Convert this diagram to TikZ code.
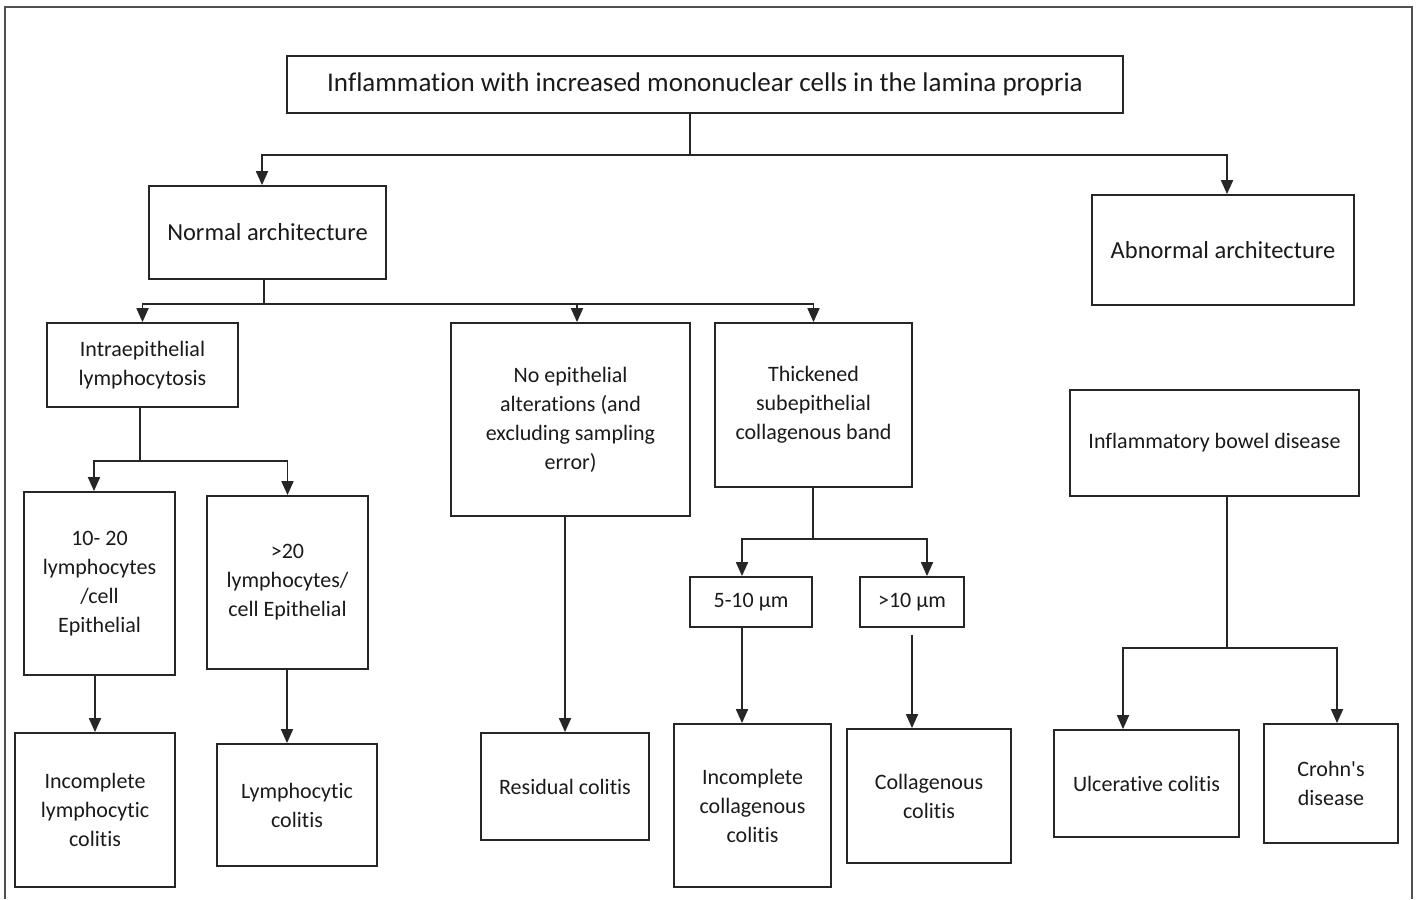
\documentclass[tikz,border=0pt]{standalone}
\usepackage{fontspec}
\setmainfont{Carlito}[Ligatures=NoCommon]
\usepackage{tikz}
\usetikzlibrary{arrows.meta,calc}
\definecolor{BoxLine}{HTML}{262626}
\definecolor{FrameLine}{HTML}{505050}
\definecolor{InkText}{HTML}{1A1A1A}
\newcommand{\headfont}{\fontsize{13.5}{16}\selectfont}
\newcommand{\archfont}{\fontsize{12.25}{15}\selectfont}
\newcommand{\midfont}{\fontsize{11}{14}\selectfont}
\newcommand{\smallfont}{\fontsize{11}{14.5}\selectfont}
\tikzset{>={Triangle[width=6pt,length=7pt]}}
\tikzset{
  box/.style={draw=BoxLine, line width=0.9pt, align=center, text=InkText,
    font=\smallfont, inner sep=0pt},
  dim/.style 2 args={minimum width=#1*0.5pt, minimum height=#2*0.5pt},
  wire/.style={draw=BoxLine, line width=0.9pt},
  go/.style={wire, ->}
}

\begin{document}
\begin{tikzpicture}[x=0.5pt,y=-0.5pt]
  \useasboundingbox (0,0) rectangle (1417,899);
  %% frame
  \draw[FrameLine, line width=0.8pt] (5,899) -- (5,7) -- (1412,7) -- (1412,899);

  %% level 0 and 1
  \node[box, dim={836}{57}, font=\headfont] (title) at (705,84.5)
    {Inflammation with increased mononuclear cells in the lamina propria};
  \node[box, dim={237}{93}, font=\archfont] (normal) at (267.5,232.5) {Normal architecture};
  \node[box, dim={262}{110}, font=\archfont] (abnormal) at (1223,250) {Abnormal architecture};

  %% level 2
  \node[box, dim={191}{84}] (intra) at (142.5,365) {Intraepithelial\\lymphocytosis};
  \node[box, dim={239}{193}] (noepi) at (570.5,419.5)
    {No epithelial\\alterations (and\\excluding sampling\\error)};
  \node[box, dim={197}{164}] (thick) at (813.5,405)
    {Thickened\\subepithelial\\collagenous band};
  \node[box, dim={289}{106}, font=\midfont] (ibd) at (1214.5,443) {Inflammatory bowel disease};

  %% level 3
  \node[box, dim={151}{183}] (lowlym) at (99.5,583.5) {10- 20\\lymphocytes\\/cell\\Epithelial};
  \node[box, dim={161}{173}] (highlym) at (287.5,582.5) {>20\\lymphocytes/\\cell Epithelial};
  \node[box, dim={122}{50}] (thin) at (751,602) {5-10 µm};
  \node[box, dim={104}{50}] (thickb) at (912,602) {>10 µm};

  %% leaves
  \node[box, dim={160}{154}] (inclym) at (95,810) {Incomplete\\lymphocytic\\colitis};
  \node[box, dim={160}{122}] (lymcol) at (297,805) {Lymphocytic\\colitis};
  \node[box, dim={168}{107}] (residual) at (565,786.5) {Residual colitis};
  \node[box, dim={157}{163}] (inccol) at (752.5,805.5) {Incomplete\\collagenous\\colitis};
  \node[box, dim={164}{134}] (colcol) at (929,796) {Collagenous\\colitis};
  \node[box, dim={185}{107}] (uc) at (1146.5,783.5) {Ulcerative colitis};
  \node[box, dim={134}{119}] (crohn) at (1331,783.5) {Crohn\textquotesingle s\\disease};

  %% branch points
  \coordinate (topbar) at (690,155);
  \coordinate (normbar) at (264,304);
  \coordinate (intrabar) at (140,461);
  \coordinate (thickbar) at (813,539);
  \coordinate (ibdbar) at (1227,648);

  %% connectors
  \draw[wire] (topbar |- title.south) -- (topbar);
  \draw[go] (topbar) -| ([xshift=-2.75pt]normal.north);
  \draw[go] (topbar) -| ([xshift=2pt]abnormal.north);

  \draw[wire] (normbar |- normal.south) -- (normbar);
  \draw[go] (normbar) -| (intra.north);
  \draw[go] (normbar) -| ([xshift=3.25pt]noepi.north);
  \draw[go] (normbar) -| (thick.north);

  \draw[wire] (intrabar |- intra.south) -- (intrabar);
  \draw[go] (intrabar) -| ([xshift=-2.75pt]lowlym.north);
  \draw[go] (intrabar) -| (highlym.north);
  \draw[go] (inclym.north |- lowlym.south) -- (inclym.north);
  \draw[go] ([xshift=-0.25pt]highlym.south) -- ([xshift=-0.25pt]highlym.south |- lymcol.north);

  \draw[go] (residual.north |- noepi.south) -- (residual.north);

  \draw[wire] (thickbar |- thick.south) -- (thickbar);
  \draw[go] (thickbar) -| ([xshift=-4.5pt]thin.north);
  \draw[go] (thickbar) -| ([xshift=7.5pt]thickb.north);
  \draw[go] ([xshift=-4.5pt]thin.south) -- ([xshift=-4.5pt]thin.south |- inccol.north);
  \draw[go] ([yshift=-3.5pt]thickb.south) -- (thickb.south |- colcol.north);

  \draw[wire] (ibdbar |- ibd.south) -- (ibdbar);
  \draw[go] (ibdbar) -| ([xshift=-11.75pt]uc.north);
  \draw[go] (ibdbar) -| ([xshift=3pt]crohn.north);
\end{tikzpicture}
\end{document}
